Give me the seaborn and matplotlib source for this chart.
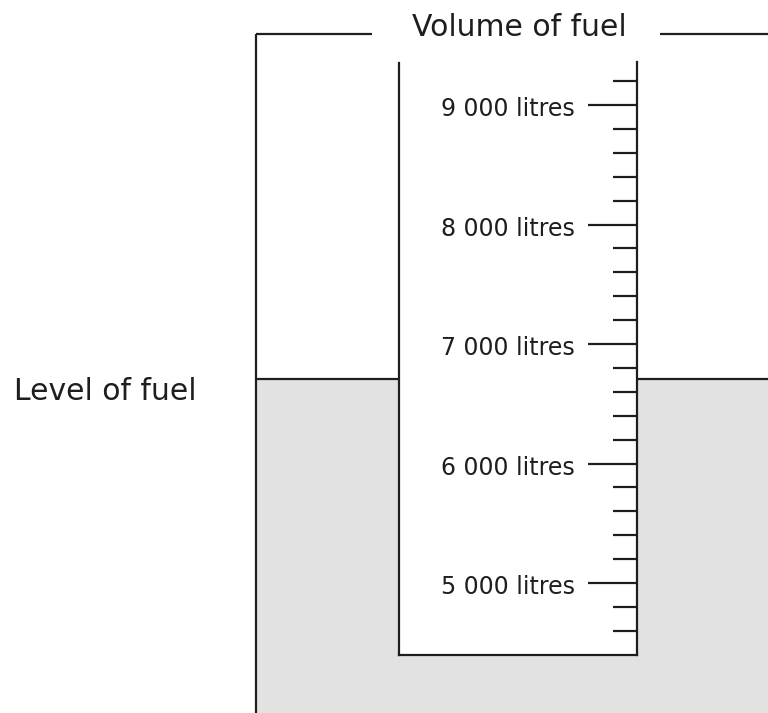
import matplotlib
matplotlib.use("Agg")
import matplotlib.pyplot as plt
import seaborn as sns
import numpy as np

# --- data ---
major_ticks = [5000, 6000, 7000, 8000, 9000]
major_labels = ["5 000 litres", "6 000 litres", "7 000 litres", "8 000 litres", "9 000 litres"]
minor_ticks = [4600, 4800, 5200, 5400, 5600, 5800, 6200, 6400, 6600, 6800,
               7200, 7400, 7600, 7800, 8200, 8400, 8600, 8800, 9200]
fuel_level = 6710
gauge_bottom = 4400
gauge_top = 9350
tank_top = 9590

title = "Volume of fuel"
level_label = "Level of fuel"

sns.set_theme(style="white")
plt.rcParams["font.family"] = ["DejaVu Sans"]

W, H = 768, 713
fig = plt.figure(figsize=(W / 100, H / 100), dpi=100)
fig.patch.set_facecolor("white")

# y range so 1000 litres = ~119.5 px, 7000 at 344 px from top
ppl = 0.1195
y_hi = 7000 + 344 / ppl
y_lo = 7000 - (H - 344) / ppl

ink = "#1e1e1e"
grey = "#e2e2e2"
lw = 1.6

# tank and fuel, x in pixels, y in litres
ax = fig.add_axes([0, 0, 1, 1])
ax.set_xlim(0, W)
ax.set_ylim(y_lo, y_hi)
ax.axis("off")

gx0, gx1 = 399, 637  # gauge walls
ax.fill_between([256, W], y_lo, fuel_level, color=grey, lw=0)
ax.fill_between([gx0, gx1], gauge_bottom, fuel_level + 1, color="white", lw=0)
ax.hlines(fuel_level, 256, gx0, color=ink, lw=lw)
ax.hlines(fuel_level, gx1, W, color=ink, lw=lw)
ax.vlines(256, y_lo, tank_top, color=ink, lw=lw)
ax.hlines(tank_top, 256, 372, color=ink, lw=lw)
ax.hlines(tank_top, 660, W, color=ink, lw=lw)

# gauge scale as its own axes
axg = fig.add_axes([gx0 / W, 0, (gx1 - gx0) / W, 1])
axg.set_ylim(y_lo, y_hi)
axg.set_xlim(0, 1)
axg.patch.set_visible(False)
for s in ["left", "right", "bottom"]:
    axg.spines[s].set_color(ink)
    axg.spines[s].set_linewidth(lw)
axg.spines["top"].set_visible(False)
axg.spines["left"].set_bounds(gauge_bottom, gauge_top)
axg.spines["right"].set_bounds(gauge_bottom, gauge_top + 10)
axg.spines["bottom"].set_position(("data", gauge_bottom))
axg.set_xticks([])
axg.set_yticks(major_ticks)
axg.set_yticks(minor_ticks, minor=True)
axg.yaxis.set_ticks_position("right")
axg.tick_params(axis="y", which="major", direction="in", length=35, width=lw,
                color=ink, labelright=False, labelleft=False)
axg.tick_params(axis="y", which="minor", direction="in", length=17.3, width=lw,
                color=ink)

for v, lab in zip(major_ticks, major_labels):
    ax.annotate(lab, xy=(575, v), xytext=(0, -3), textcoords="offset points",
                ha="right", va="center", fontsize=17, color=ink)

fig.text(519 / W, 1 - 27 / H, title, ha="center", va="center", fontsize=21.5, color=ink)
ax.annotate(level_label, xy=(14, fuel_level), xytext=(0, -9.5), textcoords="offset points",
            ha="left", va="center", fontsize=21.5, color=ink)

fig.savefig("out.png", dpi=100)
